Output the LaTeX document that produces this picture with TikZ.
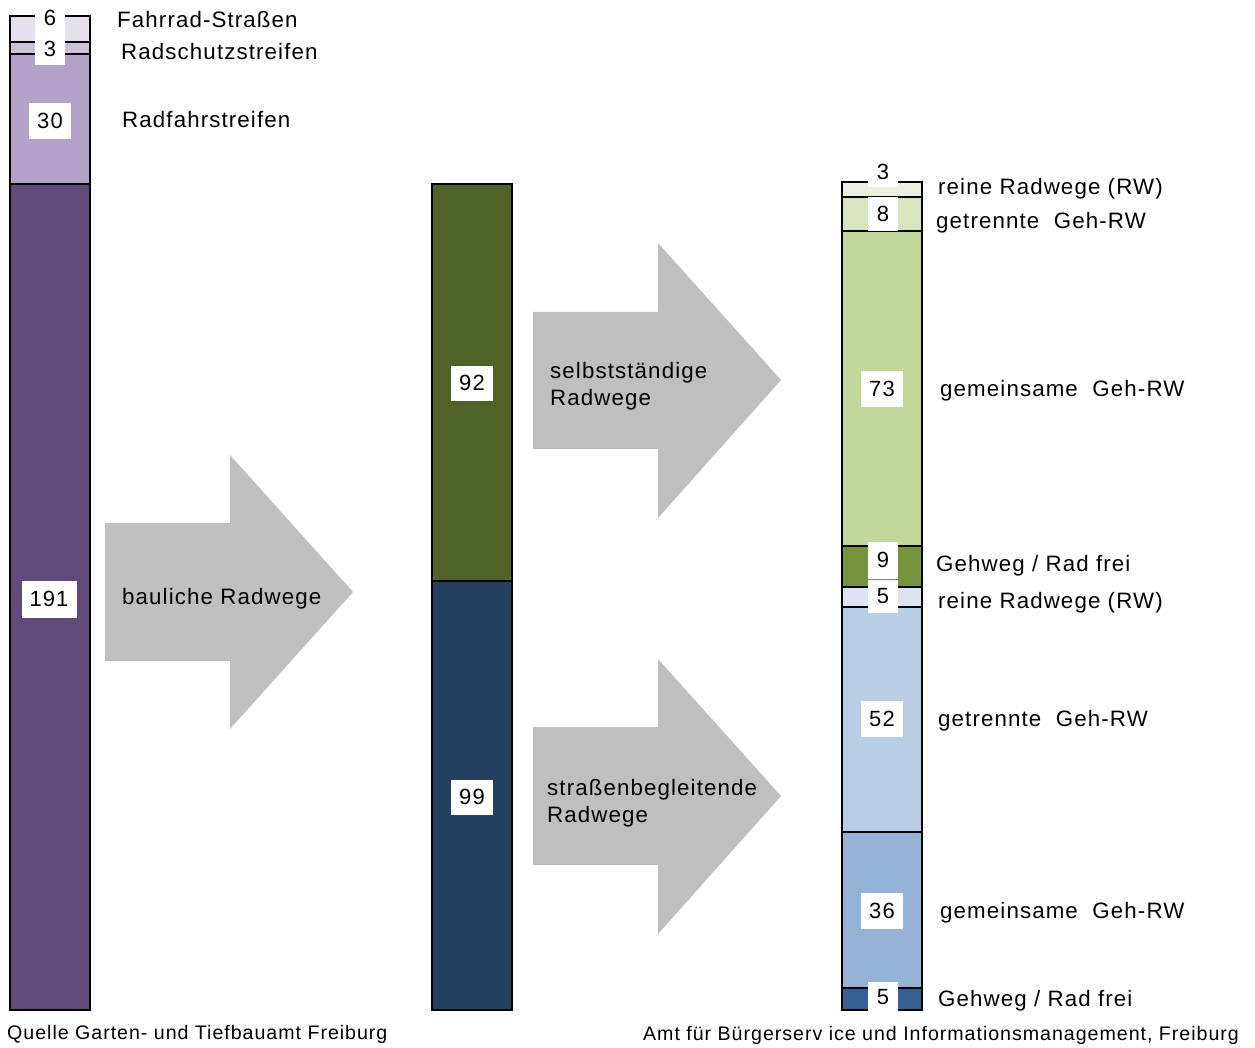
\documentclass[tikz,border=0pt]{standalone}
\usepackage{fontspec}
\setmainfont{Liberation Sans}[LetterSpace=5]
\definecolor{lavA}{HTML}{E6E0EC}
\definecolor{lavB}{HTML}{CCC1DA}
\definecolor{lavC}{HTML}{B3A2C7}
\definecolor{lavD}{HTML}{604A7B}
\definecolor{grnD}{HTML}{4F6228}
\definecolor{navD}{HTML}{253F5F}
\definecolor{gA}{HTML}{EBF1DE}
\definecolor{gB}{HTML}{D7E4BD}
\definecolor{gC}{HTML}{C3D69B}
\definecolor{gD}{HTML}{77933C}
\definecolor{bA}{HTML}{DCE6F2}
\definecolor{bB}{HTML}{B9CDE5}
\definecolor{bC}{HTML}{95B3D7}
\definecolor{bD}{HTML}{376092}
\definecolor{arrowgray}{HTML}{BFBFBF}
\begin{document}
\begin{tikzpicture}[x=1pt,y=-1pt,
  seg/.style={draw=black,line width=1.8pt},
  numbox/.style={fill=white,inner sep=0pt,font=\fontsize{22}{26}\selectfont,text=black},
  lbl/.style={anchor=base west,inner sep=0pt,font=\fontsize{22.3}{26}\selectfont,text=black},
  foot/.style={anchor=base west,inner sep=0pt,font=\fontsize{19.6}{23}\selectfont,text=black},
  arrowshape/.style={fill=arrowgray,draw=none}]
\useasboundingbox (0,0) rectangle (1255,1048);
\fill[white] (0,0) rectangle (1255,1048);

% arrows
\fill[arrowshape] (105,523) -- (230,523) -- (230,455) -- (353,592) -- (230,729) -- (230,661) -- (105,661) -- cycle;
\fill[arrowshape] (533,312) -- (658,312) -- (658,243) -- (781,380) -- (658,518) -- (658,449) -- (533,449) -- cycle;
\fill[arrowshape] (533,727) -- (658,727) -- (658,659) -- (781,796) -- (658,934) -- (658,865) -- (533,865) -- cycle;

% left bar
\filldraw[seg,fill=lavA] (10,16) rectangle (90,42);
\filldraw[seg,fill=lavB] (10,42) rectangle (90,54);
\filldraw[seg,fill=lavC] (10,54) rectangle (90,184);
\filldraw[seg,fill=lavD] (10,184) rectangle (90,1010);

% middle bar
\filldraw[seg,fill=grnD] (432,184) rectangle (512,581);
\filldraw[seg,fill=navD] (432,581) rectangle (512,1010);

% right bar
\filldraw[seg,fill=gA] (842,182) rectangle (922,197);
\filldraw[seg,fill=gB] (842,197) rectangle (922,231);
\filldraw[seg,fill=gC] (842,231) rectangle (922,546);
\filldraw[seg,fill=gD] (842,546) rectangle (922,587);
\filldraw[seg,fill=bA] (842,587) rectangle (922,607);
\filldraw[seg,fill=bB] (842,607) rectangle (922,832);
\filldraw[seg,fill=bC] (842,832) rectangle (922,988);
\filldraw[seg,fill=bD] (842,988) rectangle (922,1010);

% number boxes left
\node[numbox,minimum width=30,minimum height=32] (n6) at (50,18) {6};
\node[numbox,minimum width=30,minimum height=33] (n3) at (50,49) {3};
\node[numbox,minimum width=42,minimum height=36] (n30) at (50,121) {30};
\node[numbox,minimum width=55,minimum height=37] (n191) at (49,599) {191};
% middle
\node[numbox,minimum width=42,minimum height=35] (n92) at (472,383) {92};
\node[numbox,minimum width=42,minimum height=35] (n99) at (472,797) {99};
% right
\node[numbox,minimum width=30,minimum height=31] (r3) at (883,172) {3};
\node[numbox,minimum width=30,minimum height=34] (r8) at (883,214) {8};
\node[numbox,minimum width=42,minimum height=36] (r73) at (882,389) {73};
\node[numbox,minimum width=30,minimum height=37] (r9) at (883,560) {9};
\node[numbox,minimum width=30,minimum height=33] (r5a) at (883,596) {5};
\node[numbox,minimum width=42,minimum height=36] (r52) at (882,719) {52};
\node[numbox,minimum width=42,minimum height=36] (r36) at (882,911) {36};
\node[numbox,minimum width=30,minimum height=30] (r5b) at (883,997) {5};

% labels left
\node[lbl] (tFS) at (117,28) {Fahrrad-Straßen};
\node[lbl] (tRS) at (121,60) {Radschutzstreifen};
\node[lbl] (tRF) at (122,128) {Radfahrstreifen};
\node[lbl] (tBR) at (122,604) {bauliche Radwege};
\node[lbl] (tSR1) at (550,378) {selbstständige};
\node[lbl] (tSR2) at (550,405) {Radwege};
\node[lbl] (tSB1) at (547,795) {straßenbegleitende};
\node[lbl] (tSB2) at (547,822) {Radwege};

% labels right
\node[lbl] (l1) at (938,195) {reine Radwege (RW)};
\node[lbl] (l2) at (936,229) {getrennte\ \ Geh-RW};
\node[lbl] (l3) at (940,396) {gemeinsame\ \ Geh-RW};
\node[lbl] (l4) at (936,571) {Gehweg / Rad frei};
\node[lbl] (l5) at (938,608) {reine Radwege (RW)};
\node[lbl] (l6) at (938,726) {getrennte\ \ Geh-RW};
\node[lbl] (l7) at (940,918) {gemeinsame\ \ Geh-RW};
\node[lbl] (l8) at (938,1006) {Gehweg / Rad frei};

% footers
\node[foot] (fL) at (7,1039) {Quelle Garten- und Tiefbauamt Freiburg};
\node[foot] (fR) at (643,1040) {Amt für Bürgerserv ice und Informationsmanagement, Freiburg};
\end{tikzpicture}
\end{document}
